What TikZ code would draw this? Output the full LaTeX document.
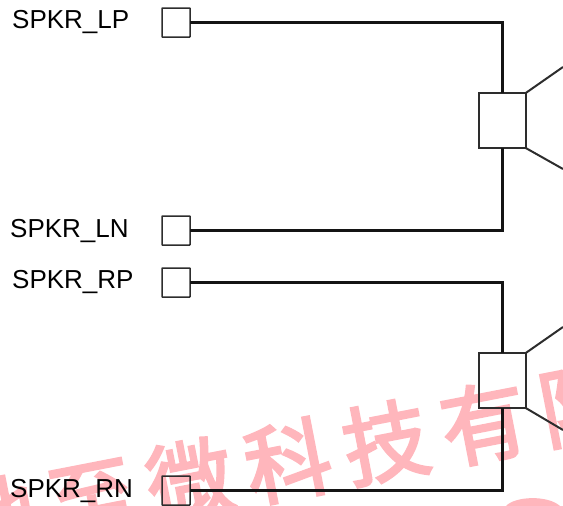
\documentclass[tikz,border=0pt]{standalone}
\usepackage{fontspec}
\setmainfont{Liberation Sans}
\newfontfamily\cjk[FakeBold=3,LetterSpace=16]{Noto Sans CJK SC}
\definecolor{wm}{RGB}{255,182,188}
\definecolor{wire}{RGB}{20,20,20}
\definecolor{spk}{RGB}{45,45,45}
\tikzset{
  lab/.style={anchor=base west,inner sep=0pt,font=\fontsize{26}{26}\selectfont,text=black},
  pad/.style={draw=spk,line width=1.5pt,minimum width=28pt,minimum height=29pt,inner sep=0pt,outer sep=0pt,rounded corners=0.5pt},
  spkbox/.style={draw=spk,line width=2.4pt,minimum width=46.5pt,minimum height=55pt,inner sep=0pt,outer sep=0pt},
  net/.style={draw=wire,line width=2.8pt},
  cone/.style={draw=spk,line width=2pt}
}
\begin{document}
\begin{tikzpicture}[x=1pt,y=-1pt]
\useasboundingbox (0,0) rectangle (563,506);
\clip (0,0) rectangle (563,506);
\node[rotate=11,anchor=center,inner sep=0pt,text=wm,font=\cjk\fontsize{86}{86}\selectfont] (wmk) at (288,461) {地至微科技有限};
\fill[wm] (506,506) .. controls (515,496) and (548,495) .. (560,506) -- cycle;
\node[lab] (lp) at (12,28) {SPKR\_LP};
\node[lab] (ln) at (10,237) {SPKR\_LN};
\node[lab] (rp) at (12,288) {SPKR\_RP};
\node[lab] (rn) at (10,497) {SPKR\_RN};
\node[pad] (p1) at (176,22.5) {};
\node[pad] (p2) at (176,230.5) {};
\node[pad] (p3) at (176,282.5) {};
\node[pad] (p4) at (176,490.5) {};
\node[spkbox] (s1) at (502.5,120.5) {};
\node[spkbox] (s2) at (502.5,380.5) {};
\draw[net] (p1.east) -| (s1.north);
\draw[net] (p2.east) -| (s1.south);
\draw[net] (p3.east) -| (s2.north);
\draw[net] (p4.east) -| (s2.south);
\coordinate (c1) at (563,67);
\coordinate (c2) at (563,169);
\coordinate (c3) at (563,327);
\coordinate (c4) at (563,430);
\draw[cone] (s1.north east) -- (c1);
\draw[cone] (s1.south east) -- (c2);
\draw[cone] (s2.north east) -- (c3);
\draw[cone] (s2.south east) -- (c4);
\end{tikzpicture}
\end{document}
